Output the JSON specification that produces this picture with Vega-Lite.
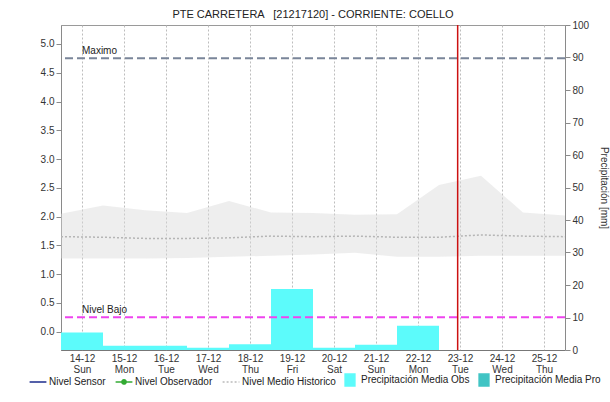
{
  "$schema": "https://vega.github.io/schema/vega-lite/v6.json",
  "width": 504,
  "height": 325,
  "autosize": {"type": "none"},
  "padding": {"left": 61, "top": 25, "right": 45, "bottom": 52},
  "background": "white",
  "config": {
    "font": "Liberation Sans",
    "view": {"stroke": "#9a9a9a"},
    "axis": {
      "labelFont": "Liberation Sans",
      "labelFontSize": 10,
      "labelColor": "#333333",
      "titleFont": "Liberation Sans",
      "titleFontSize": 10,
      "titleFontWeight": "normal",
      "titleColor": "#333333",
      "gridColor": "#bdbdbd",
      "gridDash": [2, 2],
      "domainColor": "#8a8a8a",
      "tickColor": "#8a8a8a"
    },
    "axisLeft": {
      "title": "Nivel del Agua [m]",
      "values": [0, 0.5, 1, 1.5, 2, 2.5, 3, 3.5, 4, 4.5, 5],
      "format": ".1f",
      "grid": true,
      "tickSize": 5,
      "labelPadding": 2,
      "titlePadding": 23,
      "labelOverlap": false
    }
  },
  "title": {
    "text": "PTE CARRETERA \u00a0 [21217120] - CORRIENTE: COELLO",
    "font": "Liberation Sans",
    "fontSize": 11,
    "fontWeight": "normal",
    "color": "#222222",
    "anchor": "middle",
    "offset": 3,
    "dy": 3
  },
  "datasets": {
    "prec": [
      {"desde": "2025-12-13T12:00:00", "hasta": "2025-12-14T12:00:00", "mm": 5.4, "serie": "Precipitación Media Obs"},
      {"desde": "2025-12-14T12:00:00", "hasta": "2025-12-15T12:00:00", "mm": 1.3, "serie": "Precipitación Media Obs"},
      {"desde": "2025-12-15T12:00:00", "hasta": "2025-12-16T12:00:00", "mm": 1.3, "serie": "Precipitación Media Obs"},
      {"desde": "2025-12-16T12:00:00", "hasta": "2025-12-17T12:00:00", "mm": 0.7, "serie": "Precipitación Media Obs"},
      {"desde": "2025-12-17T12:00:00", "hasta": "2025-12-18T12:00:00", "mm": 1.75, "serie": "Precipitación Media Obs"},
      {"desde": "2025-12-18T12:00:00", "hasta": "2025-12-19T12:00:00", "mm": 18.8, "serie": "Precipitación Media Obs"},
      {"desde": "2025-12-19T12:00:00", "hasta": "2025-12-20T12:00:00", "mm": 0.7, "serie": "Precipitación Media Obs"},
      {"desde": "2025-12-20T12:00:00", "hasta": "2025-12-21T12:00:00", "mm": 1.6, "serie": "Precipitación Media Obs"},
      {"desde": "2025-12-21T12:00:00", "hasta": "2025-12-22T12:00:00", "mm": 7.5, "serie": "Precipitación Media Obs"}
    ],
    "hist": [
      {"fecha": "2025-12-13T12:00:00", "max": 2.05, "min": 1.27, "medio": 1.65},
      {"fecha": "2025-12-14T12:00:00", "max": 2.19, "min": 1.27, "medio": 1.64},
      {"fecha": "2025-12-15T12:00:00", "max": 2.11, "min": 1.27, "medio": 1.62},
      {"fecha": "2025-12-16T12:00:00", "max": 2.06, "min": 1.28, "medio": 1.62},
      {"fecha": "2025-12-17T12:00:00", "max": 2.27, "min": 1.30, "medio": 1.63},
      {"fecha": "2025-12-18T12:00:00", "max": 2.07, "min": 1.32, "medio": 1.66},
      {"fecha": "2025-12-19T12:00:00", "max": 2.06, "min": 1.34, "medio": 1.65},
      {"fecha": "2025-12-20T12:00:00", "max": 2.03, "min": 1.37, "medio": 1.66},
      {"fecha": "2025-12-21T12:00:00", "max": 2.04, "min": 1.30, "medio": 1.64},
      {"fecha": "2025-12-22T12:00:00", "max": 2.55, "min": 1.30, "medio": 1.64},
      {"fecha": "2025-12-23T12:00:00", "max": 2.71, "min": 1.32, "medio": 1.68},
      {"fecha": "2025-12-24T12:00:00", "max": 2.07, "min": 1.32, "medio": 1.66},
      {"fecha": "2025-12-25T12:00:00", "max": 2.02, "min": 1.32, "medio": 1.65}
    ],
    "umbrales": [
      {"nombre": "Maximo", "valor": 4.75, "fecha": "2025-12-14T00:00:00"},
      {"nombre": "Nivel Bajo", "valor": 0.25, "fecha": "2025-12-14T00:00:00"}
    ],
    "ahora": [
      {"fecha": "2025-12-22T22:40:00"}
    ]
  },
  "layer": [
    {
      "data": {"name": "prec"},
      "mark": {"type": "bar"},
      "encoding": {
        "x": {
          "field": "desde",
          "type": "temporal",
          "scale": {
            "domain": [
              {"year": 2025, "month": 12, "date": 13, "hours": 12},
              {"year": 2025, "month": 12, "date": 25, "hours": 12}
            ]
          },
          "axis": {
            "title": null,
            "values": [
              {"year": 2025, "month": 12, "date": 14},
              {"year": 2025, "month": 12, "date": 15},
              {"year": 2025, "month": 12, "date": 16},
              {"year": 2025, "month": 12, "date": 17},
              {"year": 2025, "month": 12, "date": 18},
              {"year": 2025, "month": 12, "date": 19},
              {"year": 2025, "month": 12, "date": 20},
              {"year": 2025, "month": 12, "date": 21},
              {"year": 2025, "month": 12, "date": 22},
              {"year": 2025, "month": 12, "date": 23},
              {"year": 2025, "month": 12, "date": 24},
              {"year": 2025, "month": 12, "date": 25}
            ],
            "labelExpr": "[timeFormat(datum.value, '%d-%m'), timeFormat(datum.value, '%a')]",
            "labelLineHeight": 11,
            "labelPadding": 3,
            "ticks": false,
            "grid": true,
            "domainColor": "#555555",
            "domainDash": [1, 1]
          }
        },
        "x2": {"field": "hasta"},
        "y": {
          "field": "mm",
          "type": "quantitative",
          "scale": {"domain": [0, 100], "nice": false},
          "axis": {
            "orient": "right",
            "title": "Precipitación [mm]",
            "values": [0, 10, 20, 30, 40, 50, 60, 70, 80, 90, 100],
            "grid": false,
            "tickSize": 5,
            "labelPadding": 2,
            "titlePadding": 10
          }
        },
        "y2": {"datum": 0},
        "color": {
          "field": "serie",
          "type": "nominal",
          "scale": {
            "domain": ["Nivel Sensor", "Nivel Observador", "Nivel Medio Historico", "Precipitación Media Obs", "Precipitación Media Pro"],
            "range": ["#1a2a8c", "#33aa33", "#bbbbbb", "#5cfbfb", "#40c4c4"]
          },
          "legend": {
            "orient": "none",
            "legendX": -31,
            "legendY": 347,
            "direction": "horizontal",
            "columns": 5,
            "title": null,
            "labelFont": "Liberation Sans",
            "labelFontSize": 10,
            "labelColor": "#222222",
            "symbolSize": 196,
            "columnPadding": 6,
            "labelOffset": 3,
            "encode": {
              "symbols": {
                "update": {
                  "shape": {"signal": "datum.value === 'Nivel Sensor' || datum.value === 'Nivel Medio Historico' ? 'M-1.2,0H1.2' : datum.value === 'Nivel Observador' ? 'M-1.2,0H1.2M-0.3,0A0.3,0.3 0 1,1 0.3,0A0.3,0.3 0 1,1 -0.3,0Z' : 'M-0.7,-0.85H0.7V0.85H-0.7Z'"},
                  "stroke": {"signal": "datum.value === 'Nivel Sensor' ? '#1a2a8c' : datum.value === 'Nivel Observador' ? '#33aa33' : datum.value === 'Nivel Medio Historico' ? '#bbbbbb' : datum.value === 'Precipitación Media Obs' ? '#5cfbfb' : '#40c4c4'"},
                  "fill": {"signal": "datum.value === 'Nivel Sensor' ? '#1a2a8c' : datum.value === 'Nivel Observador' ? '#33aa33' : datum.value === 'Nivel Medio Historico' ? '#bbbbbb' : datum.value === 'Precipitación Media Obs' ? '#5cfbfb' : '#40c4c4'"},
                  "strokeWidth": {"value": 1.5},
                  "strokeDash": {"signal": "datum.value === 'Nivel Medio Historico' ? [2, 2] : [1, 0]"}
                }
              }
            }
          }
        }
      }
    },
    {
      "layer": [
        {
          "data": {"name": "hist"},
          "mark": {"type": "area", "color": "#d9d9d9", "opacity": 0.45},
          "encoding": {
            "x": {"field": "fecha", "type": "temporal"},
            "y": {
              "field": "max",
              "type": "quantitative",
              "scale": {"domain": [-0.32, 5.33], "nice": false},
              "axis": {"orient": "left"}
            },
            "y2": {"field": "min"}
          }
        },
        {
          "data": {"name": "hist"},
          "mark": {"type": "line", "color": "#b5b5b5", "strokeDash": [2, 2], "strokeWidth": 1.5},
          "encoding": {
            "x": {"field": "fecha", "type": "temporal"},
            "y": {"field": "medio", "type": "quantitative", "scale": {"domain": [-0.32, 5.33], "nice": false}, "axis": {"orient": "left"}}
          }
        },
        {
          "data": {"name": "umbrales"},
          "transform": [{"filter": "datum.nombre === 'Maximo'"}],
          "mark": {"type": "rule", "color": "#7a8599", "strokeDash": [8, 4], "strokeWidth": 2},
          "encoding": {
            "y": {"field": "valor", "type": "quantitative", "scale": {"domain": [-0.32, 5.33], "nice": false}, "axis": {"orient": "left"}}
          }
        },
        {
          "data": {"name": "umbrales"},
          "transform": [{"filter": "datum.nombre === 'Nivel Bajo'"}],
          "mark": {"type": "rule", "color": "#ee44ee", "strokeDash": [8, 4], "strokeWidth": 2},
          "encoding": {
            "y": {"field": "valor", "type": "quantitative", "scale": {"domain": [-0.32, 5.33], "nice": false}, "axis": {"orient": "left"}}
          }
        },
        {
          "data": {"name": "umbrales"},
          "mark": {"type": "text", "align": "left", "baseline": "bottom", "dy": -2, "font": "Liberation Sans", "fontSize": 10, "color": "#222222"},
          "encoding": {
            "x": {"field": "fecha", "type": "temporal"},
            "y": {"field": "valor", "type": "quantitative", "scale": {"domain": [-0.32, 5.33], "nice": false}, "axis": {"orient": "left"}},
            "text": {"field": "nombre"}
          }
        },
        {
          "data": {"name": "ahora"},
          "mark": {"type": "rule", "color": "#cc1111", "strokeWidth": 1.5},
          "encoding": {
            "x": {"field": "fecha", "type": "temporal"}
          }
        }
      ]
    }
  ],
  "resolve": {"scale": {"y": "independent"}}
}
